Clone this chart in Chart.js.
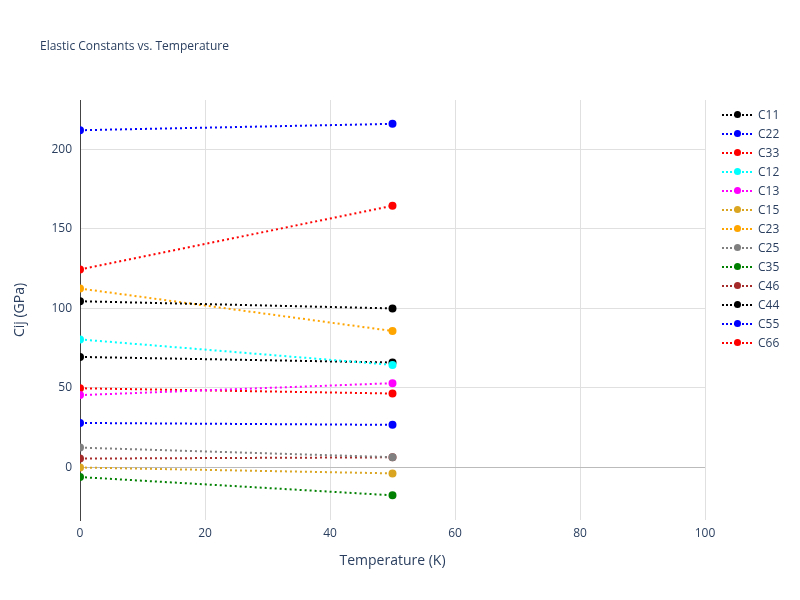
<!DOCTYPE html>
<html>
<head>
<meta charset="utf-8">
<script src="https://cdn.jsdelivr.net/npm/chart.js@4"></script>
<style>
  body { margin: 0; background: #fff; font-family: "Open Sans", sans-serif; }
  #wrap { position: relative; width: 800px; height: 600px; }
  #title { position: absolute; left: 40px; top: 37px; font-size: 12px; color: #2a3f5f; }
  #legend { position: absolute; left: 722px; top: 105px; font-size: 12px; color: #2a3f5f; }
  .item { height: 19px; display: flex; align-items: center; }
  .sw { position: relative; width: 30px; height: 10px; margin-right: 6px; }
  .sw .ln { position: absolute; left: 0; right: 0; top: 4px; border-top: 2px dotted; }
  .sw .dt { position: absolute; left: 12px; top: 1px; width: 7px; height: 7px; border-radius: 50%; }
</style>
</head>
<body>
<div id="wrap">
  <canvas id="chart" width="800" height="600"></canvas>
  <div id="title">Elastic Constants vs. Temperature</div>
  <div id="legend"></div>
</div>
<script>
// Temperatures and elastic constants (GPa)
const temps = [0, 50];
const names = ['C11', 'C22', 'C33', 'C12', 'C13', 'C15', 'C23', 'C25', 'C35', 'C46', 'C44', 'C55', 'C66'];
const colors = ['black', 'blue', 'red', 'cyan', 'magenta', 'goldenrod', 'orange', 'gray', 'green', 'brown', 'black', 'blue', 'red'];
const c11 = [104.5, 100];
const c22 = [212, 216];
const c33 = [124.5, 164.5];
const c12 = [80.5, 64.5];
const c13 = [45.5, 53];
const c15 = [0, -3.7];
const c23 = [112.5, 85.8];
const c25 = [12.5, 6.5];
const c35 = [-6, -17.5];
const c46 = [5.6, 6.4];
const c44 = [69.5, 66];
const c55 = [28, 26.8];
const c66 = [49.8, 46.5];
const series = [c11, c22, c33, c12, c13, c15, c23, c25, c35, c46, c44, c55, c66];

const datasets = names.map((n, i) => ({
    label: n,
    data: temps.map((t, j) => ({ x: t, y: series[i][j] })),
    borderColor: colors[i],
    backgroundColor: colors[i],
    borderWidth: 2,
    borderDash: [2, 3],
    pointRadius: 3,
    pointHoverRadius: 3
}));

const legend = document.getElementById('legend');
names.forEach((n, i) => {
    const d = document.createElement('div');
    d.className = 'item';
    d.innerHTML = `<div class="sw"><div class="ln" style="border-color:${colors[i]}"></div><div class="dt" style="background:${colors[i]}"></div></div>${n}`;
    legend.appendChild(d);
});

const tickFont = { family: 'Open Sans', size: 12 };
new Chart(document.getElementById('chart').getContext('2d'), {
    type: 'line',
    data: { datasets },
    options: {
        responsive: false,
        animation: false,
        layout: { padding: { top: 100, right: 95, left: 8, bottom: 27 } },
        plugins: { legend: { display: false }, tooltip: { enabled: false } },
        scales: {
            x: {
                type: 'linear', min: 0, max: 100,
                ticks: { stepSize: 20, color: '#2a3f5f', font: tickFont, padding: 6 },
                grid: { color: '#e0e0e0', drawTicks: false },
                border: { display: false },
                title: { display: true, text: 'Temperature (K)', color: '#2a3f5f', font: { family: 'Open Sans', size: 14 }, padding: { top: 14 } },
                afterFit: s => { s.height = 53; }
            },
            y: {
                min: -33, max: 231,
                afterBuildTicks: s => { s.ticks = [0, 50, 100, 150, 200].map(v => ({ value: v })); },
                ticks: { color: '#2a3f5f', font: tickFont, padding: 8 },
                grid: {
                    color: ctx => ctx.tick && ctx.tick.value === 0 ? '#bbbbbb' : '#e0e0e0',
                    drawTicks: false
                },
                border: { display: true, color: '#444', width: 1 },
                title: { display: true, text: 'Cij (GPa)', color: '#2a3f5f', font: { family: 'Open Sans', size: 14 } },
                afterFit: s => { s.width = 72; }
            }
        }
    }
});
</script>
</body>
</html>
